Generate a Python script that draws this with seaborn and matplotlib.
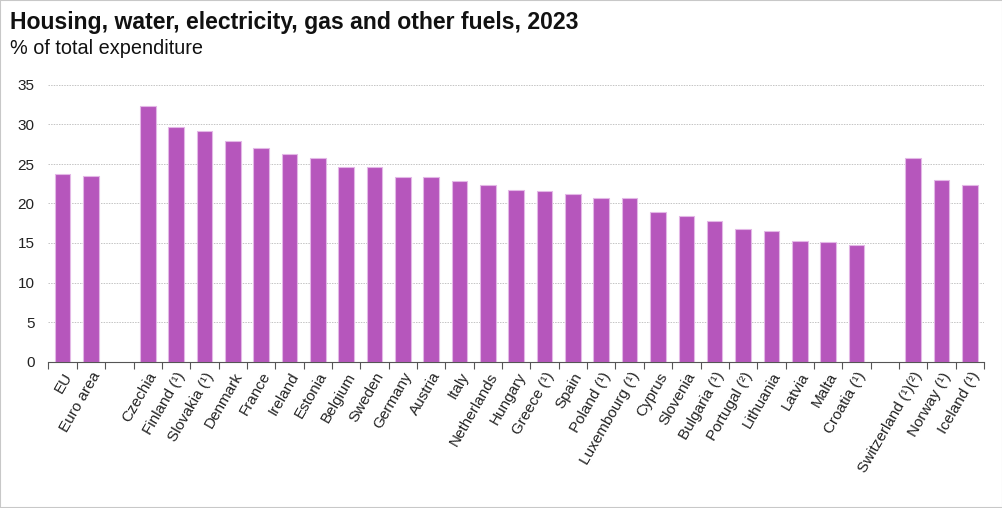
#!/usr/bin/env python3
"""Housing, water, electricity, gas and other fuels share of expenditure, 2023."""
import numpy as np
import pandas as pd
import matplotlib
matplotlib.use("Agg")
import matplotlib.pyplot as plt
from matplotlib.patches import Rectangle
from matplotlib.ticker import FixedLocator
import seaborn as sns

# data
countries = ["EU", "Euro area",
             "Czechia", "Finland (¹)", "Slovakia (¹)", "Denmark", "France", "Ireland",
             "Estonia", "Belgium", "Sweden", "Germany", "Austria", "Italy",
             "Netherlands", "Hungary", "Greece (¹)", "Spain", "Poland (¹)",
             "Luxembourg (¹)", "Cyprus", "Slovenia", "Bulgaria (¹)", "Portugal (²)",
             "Lithuania", "Latvia", "Malta", "Croatia (¹)",
             "Switzerland (¹)(²)", "Norway (¹)", "Iceland (¹)"]
values = [23.7, 23.5,
          32.4, 29.7, 29.2, 27.9, 27.0, 26.3,
          25.7, 24.6, 24.6, 23.4, 23.4, 22.9,
          22.3, 21.7, 21.6, 21.2, 20.7,
          20.7, 18.9, 18.4, 17.8, 16.8,
          16.5, 15.2, 15.1, 14.7,
          25.8, 23.0, 22.3]
# empty slots separating the groups
order = countries[:2] + ["_gap1"] + countries[2:28] + ["_gap2"] + countries[28:]

bar_color = "#B656BC"

sns.set_style("white")
plt.rcParams["font.family"] = ["Liberation Sans", "DejaVu Sans"]

df = pd.DataFrame({"country": countries, "value": values})

fig = plt.figure(figsize=(10.03, 5.08), dpi=100)
ax = fig.add_axes([48.5 / 1003, 146.5 / 508, 935.5 / 1003, 276.5 / 508])

sns.barplot(data=df, x="country", y="value", order=order, color=bar_color,
            width=0.55, saturation=1, edgecolor="#E3B8E6", linewidth=0.8, ax=ax)

ax.set_ylim(0, 35)
ax.set_xlim(-0.5, len(order) - 0.5)
ax.set_yticks(np.arange(0, 36, 5))
ax.yaxis.grid(True, color="#C4C4C4", linestyle=(0, (1.5, 1.2)), linewidth=0.7)
ax.set_axisbelow(True)

labels = ["" if c.startswith("_gap") else c for c in order]
ax.set_xticks(np.arange(len(order)))
ax.set_xticklabels(labels, rotation=60, ha="right", rotation_mode="anchor",
                   fontsize=11, color="#222222")
ax.tick_params(axis="x", which="major", length=0, pad=6)
ax.xaxis.set_minor_locator(FixedLocator(np.arange(-0.5, len(order), 1.0)))
ax.tick_params(axis="x", which="minor", length=5, width=0.8, color="#555555",
               direction="out", bottom=True)
ax.tick_params(axis="y", length=0, labelsize=11, labelcolor="#222222", pad=10)

ax.set_xlabel("")
ax.set_ylabel("")
for side in ["top", "right", "left"]:
    ax.spines[side].set_visible(False)
ax.spines["bottom"].set_color("#555555")
ax.spines["bottom"].set_linewidth(0.8)

fig.text(10 / 1003, 1 - 29 / 508, "Housing, water, electricity, gas and other fuels, 2023",
         fontsize=16.6, fontweight="bold", va="baseline", color="#111111")
fig.text(10 / 1003, 1 - 54 / 508, "% of total expenditure",
         fontsize=14.3, va="baseline", color="#111111")

# light frame around the whole picture
fig.patches.append(Rectangle((0, 0), 1, 1, transform=fig.transFigure, fill=False,
                             edgecolor="#C8C8C8", linewidth=1.5))

fig.savefig("out.png", dpi=100)
